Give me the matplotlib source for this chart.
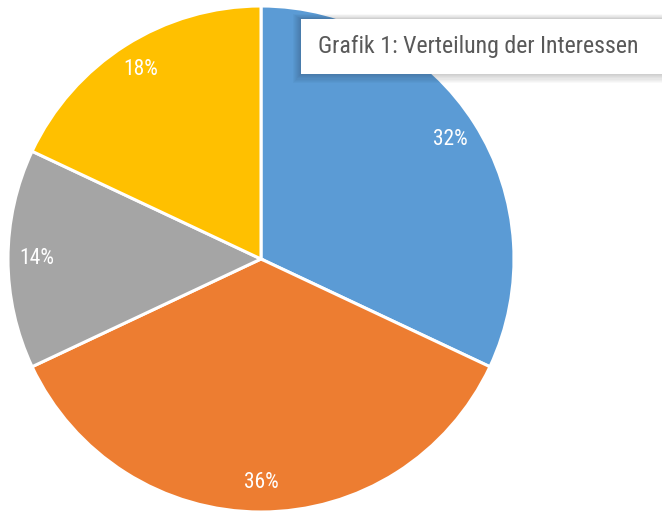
import matplotlib.pyplot as plt
from matplotlib.patches import Rectangle

# data
labels = ['32%', '36%', '14%', '18%']
shares = [32, 36, 14, 18]
colors = ['#5B9BD5', '#ED7D31', '#A5A5A5', '#FFC000']
title = 'Grafik 1: Verteilung der Interessen'

fonts = ['Roboto Condensed', 'Lato', 'DejaVu Sans']

W, H = 662, 513
fig = plt.figure(figsize=(W / 100, H / 100), dpi=100)
ax = fig.add_axes([0, 0, 1, 1])

# pie centre and radius in pixels
cx, cy, r = 261, 259, 253

wedges, texts = ax.pie(shares, colors=colors, startangle=90, counterclock=False,
                       radius=1, labels=labels, labeldistance=0.885,
                       wedgeprops=dict(edgecolor='white', linewidth=2.2))
for t in texts:
    t.set_color('white')
    t.set_fontsize(15.5)
    t.set_family(fonts)
    t.set_ha('center')
    t.set_va('center')

ax.set_xlim(-cx / r, (W - cx) / r)
ax.set_ylim(-(H - cy) / r, cy / r)
ax.set_aspect('auto')
ax.axis('off')

# caption box with a soft shadow, in pixel coords
def px_rect(x0, y0, x1, y1, **kw):
    return Rectangle((x0 / W, 1 - y1 / H), (x1 - x0) / W, (y1 - y0) / H,
                     transform=fig.transFigure, **kw)

for i in range(8, 0, -1):
    fig.patches.append(px_rect(301 - i, 19 - i * 0.6, W + 10, 74 + i * 1.1,
                               facecolor='black', edgecolor='none', alpha=0.025))
fig.patches.append(px_rect(301, 19, W + 10, 74, facecolor='white', edgecolor='none'))

fig.text(318 / W, 1 - 46 / H, title, fontsize=17.2, color='#595959',
         family=fonts, va='center', ha='left')

fig.savefig('out.png', dpi=100)
